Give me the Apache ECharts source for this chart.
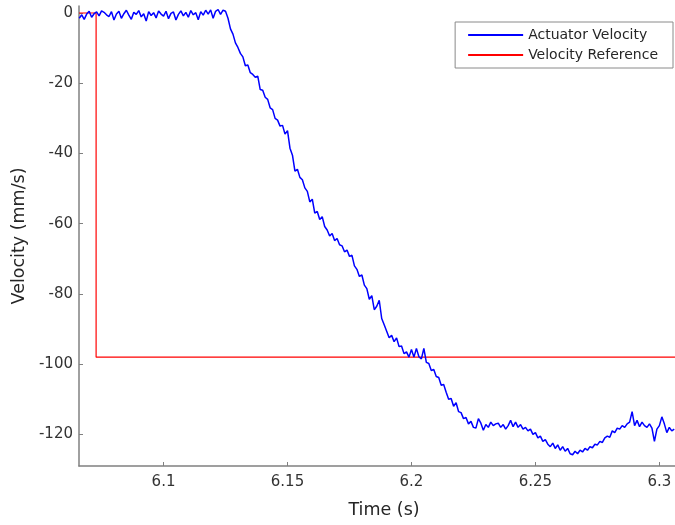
<!DOCTYPE html>
<html>
<head>
<meta charset="utf-8">
<script src="https://cdn.jsdelivr.net/npm/echarts@6/dist/echarts.min.js"></script>
<style>html,body{margin:0;padding:0;background:#fff;}#c{width:675px;height:525px;}</style>
</head>
<body>
<div id="c"></div>
<script>
// Time axis ticks and y ticks
const xTicks = [6.1, 6.15, 6.2, 6.25, 6.3];
const yTicks = [0, -20, -40, -60, -80, -100, -120];

// Actuator velocity: flat part sampled every 1 ms starting at 6.066 s
const flatStart = 6.066;
const flatVel = [
  -1.5, -0.5, -1.8, -0.3, 0.5, -1.2, -0.2, 0.3, -0.8, 0.6,
  0.2, -0.5, -1.0, 0.4, -2.0, -0.3, 0.5, -1.5, -0.2, 0.8,
  -0.6, -1.8, 0.2, -0.4, 0.7, -1.1, -0.2, -2.3, 0.4, -0.7,
  0.1, -1.4, 0.6, -0.3, -0.9, 0.5, -1.6, -0.1, 0.3, -2.0,
  -0.4, 0.6, -0.8, 0.2, -1.2, 0.7, -0.5, 0.1, -1.9, 0.4,
  -0.6, 0.8, -0.3, 0.9, -1.5, 0.5, 1.0, -0.4, 0.8, 0.5
];
// Descent and settling part, every 1 ms starting at 6.126 s
const moveStart = 6.126;
const moveVel = [
  -1.5, -4.5, -6.0, -8.5, -9.8, -11.5, -12.5, -15.0, -14.8, -17.0,
  -17.5, -18.3, -18.0, -21.8, -22.0, -24.0, -24.6, -27.0, -27.5, -30.0,
  -30.5, -32.2, -32.0, -34.5, -33.5, -38.5, -40.5, -45.0, -44.5, -46.8,
  -47.5, -49.8, -50.8, -53.8, -53.0, -57.0, -56.5, -58.8, -58.0, -60.8,
  -61.8, -63.5, -62.8, -64.8, -64.2, -66.0, -66.3, -68.0, -67.5, -69.3,
  -69.0, -72.0, -73.0, -75.0, -74.6, -77.5, -78.5, -81.5, -80.5, -84.5,
  -83.5, -81.8, -87.0, -88.8, -90.6, -92.5, -91.8, -93.6, -92.5, -95.0,
  -94.8, -97.0, -96.5, -98.0, -95.8, -98.0, -95.5, -97.9, -98.5, -95.5,
  -99.5, -99.8, -101.8, -101.5, -103.5, -103.8, -106.0, -105.8, -108.0, -110.0,
  -109.8, -112.0, -111.0, -113.5, -113.8, -115.5, -115.2, -117.0, -116.3, -118.0,
  -118.2, -115.5, -116.8, -118.8, -117.2, -118.0, -116.5, -117.5, -117.0, -116.8,
  -118.0, -117.2, -118.5, -117.5, -116.0, -117.8, -116.5, -118.0, -117.2, -118.5,
  -118.0, -119.0, -118.5, -120.0, -119.5, -121.0, -120.5, -122.0, -121.5, -122.8,
  -123.5, -122.5, -124.0, -123.0, -124.5, -123.5, -124.8, -124.0, -125.5, -125.8,
  -124.8, -125.5, -124.5, -125.0, -124.0, -124.5, -123.5, -123.8, -122.8, -123.0,
  -122.0, -122.3, -121.0, -120.5, -120.8, -119.0, -119.5, -118.2, -118.5, -117.5,
  -118.0, -117.0, -116.5, -113.5, -117.5, -116.0, -117.8, -116.5, -117.5, -118.0,
  -117.0, -118.2, -122.0, -118.5, -117.5, -115.0, -117.0, -119.5, -118.0, -119.0,
  -118.5
];
// Velocity reference (step)
const refTime = [6.0659, 6.0728, 6.0728, 6.3063];
const refVel = [0, 0, -98, -98];

const xMin = 6.0659, xMax = 6.3063, yMin = -129, yMax = 2;

const actData = [];
flatVel.forEach((v, i) => actData.push([+(flatStart + i * 0.001).toFixed(4), v]));
moveVel.forEach((v, i) => actData.push([+(moveStart + i * 0.001).toFixed(4), v]));
const refData = refTime.map((t, i) => [t, refVel[i]]);

const font = 'DejaVu Sans, Liberation Sans, Arial, sans-serif';
const chart = echarts.init(document.getElementById('c'), null, {renderer: 'canvas'});
chart.setOption({
  animation: false,
  backgroundColor: '#fff',
  grid: {left: 79, right: 0, top: 6, bottom: 59, containLabel: false},
  legend: {
    orient: 'vertical', right: 2, top: 22,
    borderColor: '#8a8a8a', borderWidth: 1, backgroundColor: '#fff',
    padding: [6, 15, 6, 13], itemGap: 6,
    itemWidth: 55, itemHeight: 2, icon: 'rect',
    textStyle: {fontFamily: font, fontSize: 14, color: '#262626'},
    data: ['Actuator Velocity', 'Velocity Reference']
  },
  xAxis: {
    type: 'value', min: xMin, max: xMax,
    name: 'Time (s)', nameLocation: 'middle', nameGap: 35,
    nameTextStyle: {fontFamily: font, fontSize: 17.5, color: '#262626', padding: [0, 0, 0, 14]},
    axisLine: {onZero: false, lineStyle: {color: '#808080', width: 1.5}},
    axisTick: {inside: true, length: 4, customValues: xTicks, lineStyle: {color: '#808080'}},
    axisLabel: {customValues: xTicks, margin: 9, fontFamily: font, fontSize: 15, color: '#333',
      formatter: v => String(+v.toFixed(3))},
    splitLine: {show: false}
  },
  yAxis: {
    type: 'value', min: yMin, max: yMax,
    name: 'Velocity (mm/s)', nameLocation: 'middle', nameGap: 45,
    nameTextStyle: {fontFamily: font, fontSize: 17.5, color: '#262626'},
    axisLine: {onZero: false, lineStyle: {color: '#808080', width: 1.5}},
    axisTick: {inside: true, length: 4, customValues: yTicks, lineStyle: {color: '#808080'}},
    axisLabel: {customValues: yTicks, margin: 6, fontFamily: font, fontSize: 15, color: '#333'},
    splitLine: {show: false}
  },
  series: [
    {name: 'Actuator Velocity', type: 'line', data: actData, showSymbol: false, symbol: 'none',
     lineStyle: {color: '#0000ff', width: 1.5}, itemStyle: {color: '#0000ff'}, z: 3},
    {name: 'Velocity Reference', type: 'line', data: refData, showSymbol: false, symbol: 'none',
     lineStyle: {color: '#ff0000', width: 1.2}, itemStyle: {color: '#ff0000'}, z: 2}
  ]
});
</script>
</body>
</html>
